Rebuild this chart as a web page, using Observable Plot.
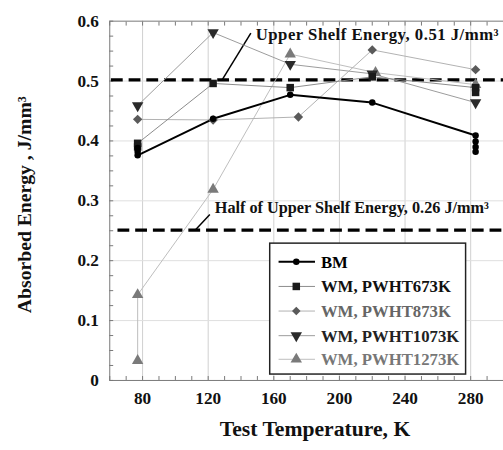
<!DOCTYPE html>
<html>
<head>
<meta charset="utf-8">
<script src="https://cdn.jsdelivr.net/npm/d3@7"></script>
<script src="https://cdn.jsdelivr.net/npm/@observablehq/plot@0.6"></script>
<style>
  html, body { margin: 0; padding: 0; background: #fff; overflow: hidden; width: 503px; height: 450px; }
  svg { display: block; }
</style>
</head>
<body>
<div id="chart"></div>
<script>
// ---- data ----
const xTicks = [80, 120, 160, 200, 240, 280];
const yTicks = [0, 0.1, 0.2, 0.3, 0.4, 0.5, 0.6];

const bmT = [77, 77, 77, 123, 170, 220, 283, 283, 283, 283];
const bmE = [0.388, 0.382, 0.376, 0.437, 0.477, 0.464, 0.409, 0.399, 0.390, 0.382];

const wm673T = [77, 77, 123, 170, 220, 283, 283];
const wm673E = [0.390, 0.396, 0.496, 0.489, 0.507, 0.489, 0.481];

const wm873T = [77, 123, 175, 220, 283];
const wm873E = [0.436, 0.435, 0.440, 0.552, 0.519];

const wm1073T = [77, 123, 170, 220, 283];
const wm1073E = [0.459, 0.581, 0.528, 0.512, 0.464];

const wm1273T = [77, 77, 123, 170, 222, 283];
const wm1273E = [0.033, 0.143, 0.319, 0.545, 0.514, 0.494];

const seriesNames = ["BM", "WM, PWHT673K", "WM, PWHT873K", "WM, PWHT1073K", "WM, PWHT1273K"];

const upperShelf = 0.502;
const halfShelf = 0.251;
const upperLabel = "Upper Shelf Energy, 0.51 J/mm³";
const halfLabel = "Half of Upper Shelf Energy, 0.26 J/mm³";

const xLabel = "Test Temperature, K";
const yLabel = "Absorbed Energy , J/mm³";

// ---- build tables ----
const toRows = (T, E) => T.map((t, i) => ({t, e: E[i]}));
const bm = toRows(bmT, bmE);
const w673 = toRows(wm673T, wm673E);
const w873 = toRows(wm873T, wm873E);
const w1073 = toRows(wm1073T, wm1073E);
const w1273 = toRows(wm1273T, wm1273E);

const styles = [
  {line: "#000", lw: 2, sym: "circle", fill: "#000", r: 3.3, rot: 0, text: "#000"},
  {line: "#8a8a8a", lw: 1, sym: "square", fill: "#1a1a1a", r: 4.3, rot: 0, text: "#111"},
  {line: "#b0b0b0", lw: 1, sym: "diamond2", fill: "#5a5a5a", r: 4.3, rot: 0, text: "#666"},
  {line: "#9a9a9a", lw: 1, sym: "triangle", fill: "#2a2a2a", r: 4.3, rot: 180, text: "#222"},
  {line: "#bdbdbd", lw: 1, sym: "triangle", fill: "#7a7a7a", r: 4.3, rot: 0, text: "#777"}
];
const tables = [bm, w673, w873, w1073, w1273];

const font = "Liberation Serif, Times New Roman, serif";

const seriesMarks = [];
[4, 3, 2, 1, 0].forEach(i => {
  const s = styles[i];
  seriesMarks.push(Plot.line(tables[i], {x: "t", y: "e", stroke: s.line, strokeWidth: s.lw, curve: "linear"}));
});
[4, 2, 3, 1, 0].forEach(i => {
  const s = styles[i];
  seriesMarks.push(Plot.dot(tables[i], {x: "t", y: "e", symbol: () => s.sym, fill: s.fill, stroke: "none", r: s.r, rotate: s.rot}));
});

const chart = Plot.plot({
  width: 511,
  height: 450,
  marginLeft: 111,
  marginRight: 0,
  marginTop: 21,
  marginBottom: 64,
  style: {fontFamily: font, background: "#fff"},
  x: {domain: [60, 300]},
  y: {domain: [0, 0.6]},
  symbol: {type: "identity"},
  marks: [
    Plot.gridX(xTicks, {stroke: "#cfcfcf", strokeOpacity: 1}),
    Plot.gridY(yTicks.slice(1, 6), {stroke: "#dedede", strokeOpacity: 1}),
    Plot.frame({stroke: "#777", strokeWidth: 1}),
    Plot.axisX(d3.range(60, 301, 10), {anchor: "bottom", tickSize: -4, text: null, label: null, stroke: "#777"}),
    Plot.axisX(d3.range(60, 301, 10), {anchor: "top", tickSize: -4, text: null, label: null, stroke: "#777"}),
    Plot.axisY(d3.range(0, 0.6001, 0.025), {anchor: "left", tickSize: -4, text: null, label: null, stroke: "#777"}),
    Plot.axisX(xTicks, {anchor: "bottom", tickSize: 0, tickPadding: 11, fontSize: 17.5, fontWeight: "bold", fill: "#111", label: null, tickFormat: d => String(d)}),
    Plot.axisY(yTicks, {anchor: "left", tickSize: 0, tickPadding: 11, fontSize: 17.5, fontWeight: "bold", fill: "#111", label: null, tickFormat: d => d === 0 ? "0" : d.toFixed(1)}),
    Plot.ruleY([upperShelf], {x1: 61, x2: 300, stroke: "#000", strokeWidth: 3.2, strokeDasharray: "12,6"}),
    Plot.ruleY([halfShelf], {x1: 65, x2: 300, stroke: "#000", strokeWidth: 3.2, strokeDasharray: "12,6"}),
    Plot.link([{x1: 146, y1: 0.58, x2: 128.5, y2: upperShelf}], {x1: "x1", y1: "y1", x2: "x2", y2: "y2", stroke: "#000", strokeWidth: 1.5}),
    Plot.link([{x1: 121, y1: 0.277, x2: 112, y2: halfShelf}], {x1: "x1", y1: "y1", x2: "x2", y2: "y2", stroke: "#000", strokeWidth: 1.5}),
    ...seriesMarks,
    Plot.text([upperLabel], {x: 149, y: 0.577, text: d => d, textAnchor: "start", fontSize: 17, fontWeight: "bold", fill: "#111"}),
    Plot.text([halfLabel], {x: 124, y: 0.289, text: d => d, textAnchor: "start", fontSize: 16.5, fontWeight: "bold", fill: "#111"})
  ]
});

chart.querySelectorAll("text").forEach(t => {
  if (t.textContent === upperLabel) t.setAttribute("letter-spacing", "0.5");
});

const svg = d3.select(chart);
svg.append("text")
  .attr("x", 320).attr("y", 443)
  .attr("text-anchor", "middle")
  .style("font-family", font).style("font-size", "22px").style("font-weight", "bold").attr("fill", "#111")
  .text(xLabel);
svg.append("text")
  .attr("transform", "translate(32,208) rotate(-90)")
  .attr("text-anchor", "middle")
  .style("font-family", font).style("font-size", "20px").style("font-weight", "bold").attr("fill", "#111")
  .text(yLabel);

// legend
const lg = svg.append("g");
lg.append("rect").attr("x", 274).attr("y", 247).attr("width", 199).attr("height", 133)
  .attr("fill", "#fff").attr("stroke", "#222").attr("stroke-width", 1.5);
const rowY = [266, 291, 316, 341, 365];
seriesNames.forEach((name, i) => {
  const s = styles[i];
  const y = rowY[i];
  lg.append("line").attr("x1", 283).attr("x2", 320).attr("y1", y).attr("y2", y)
    .attr("stroke", s.line).attr("stroke-width", s.lw);
  const symType = {circle: d3.symbolCircle, square: d3.symbolSquare, diamond2: d3.symbolSquare2, triangle: d3.symbolTriangle}[s.sym];
  const size = s.sym === "diamond2" ? Math.PI * s.r * s.r / 1.2 : Math.PI * s.r * s.r;
  lg.append("path").attr("d", d3.symbol(symType, size)())
    .attr("transform", `translate(301,${y}) rotate(${s.sym === "diamond2" ? 45 : s.rot})`)
    .attr("fill", s.fill);
  lg.append("text").attr("x", 326).attr("y", y).attr("dy", "0.35em")
    .attr("text-anchor", "start")
    .style("font-family", font).style("font-size", "17px").style("font-weight", "bold")
    .attr("fill", s.text).text(name);
});

document.getElementById("chart").appendChild(chart);
</script>
</body>
</html>
